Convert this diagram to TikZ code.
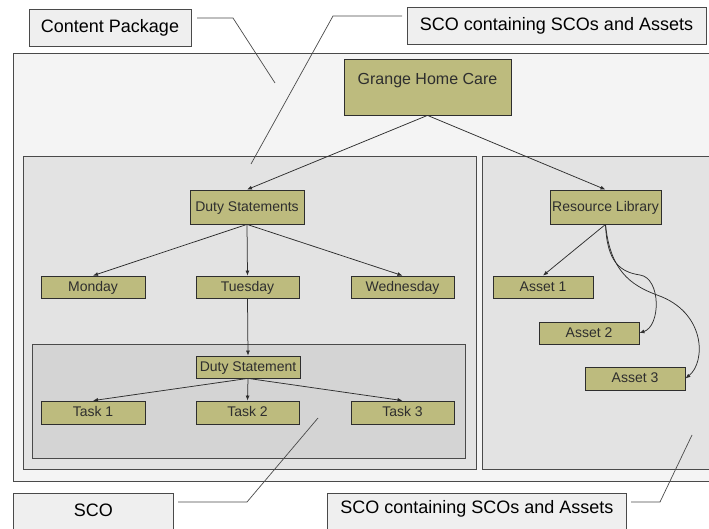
\documentclass[tikz,border=0pt]{standalone}
\usepackage{fontspec}
\setmainfont{Liberation Sans}
\usetikzlibrary{arrows.meta}
\definecolor{olive}{HTML}{BDBB7E}
\definecolor{pkgfill}{HTML}{F4F4F4}
\definecolor{scofill}{HTML}{E3E3E3}
\definecolor{innerfill}{HTML}{D4D4D4}
\definecolor{lblfill}{HTML}{EFEFEF}
\definecolor{edge}{HTML}{4A4A4A}
\definecolor{ink}{HTML}{2E2E2E}
\tikzset{
  item/.style={draw=ink, line width=0.8pt, fill=olive, inner sep=0pt, text=ink,
    font=\fontsize{14}{16}\selectfont, text height=10pt, text depth=1.5pt},
  lbl/.style={draw=edge, line width=0.8pt, fill=lblfill, inner sep=0pt, text=black,
    font=\fontsize{18}{21}\selectfont},
  region/.style={draw=edge, line width=0.9pt},
  link/.style={draw=ink, line width=0.75pt, -{Latex[length=5pt,width=4pt]}},
  callout/.style={draw=edge, line width=0.7pt},
}
\begin{document}
\begin{tikzpicture}[x=1pt,y=-1pt]
\useasboundingbox (0,0) rectangle (709,529);
\clip (0,0) rectangle (709,529);
\fill[white] (0,0) rectangle (709,529);
% regions
\draw[region, fill=pkgfill] (13,53) rectangle (716,481);
\draw[region, fill=scofill] (23,156) rectangle (476,469);
\draw[region, fill=scofill] (482,156) rectangle (716,469);
\draw[region, fill=innerfill] (32,344) rectangle (465,458);
% nodes
\node[item, minimum width=167, minimum height=56, text height=12pt, text depth=1.5pt] (ghc) at (427.5,87)
  {\fontsize{16}{18}\selectfont\raisebox{8pt}[\height][\depth]{Grange Home Care}};
\node[item, minimum width=114, minimum height=34] (ds) at (247,207) {Duty Statements};
\node[item, minimum width=104, minimum height=22] (mon) at (93,287) {Monday};
\node[item, minimum width=103, minimum height=22] (tue) at (247.5,287) {Tuesday};
\node[item, minimum width=103, minimum height=22] (wed) at (402.5,287) {Wednesday};
\node[item, minimum width=104, minimum height=22] (dst) at (248,367) {Duty Statement};
\node[item, minimum width=104, minimum height=23] (t1) at (93,412.5) {Task 1};
\node[item, minimum width=103, minimum height=23] (t2) at (247.5,412.5) {Task 2};
\node[item, minimum width=103, minimum height=23] (t3) at (402.5,412.5) {Task 3};
\node[item, minimum width=111, minimum height=34] (rl) at (605.5,207) {Resource Library};
\node[item, minimum width=100, minimum height=22] (a1) at (543,287) {Asset 1};
\node[item, minimum width=100, minimum height=22] (a2) at (589,333) {Asset 2};
\node[item, minimum width=100, minimum height=23] (a3) at (635,378.5) {Asset 3};
% connectors
\draw[link] (ghc.south) -- (ds.north);
\draw[link] (ghc.south) -- (rl.north);
\draw[link] (ds.south) -- (mon.north);
\draw[link] (ds.south) -- (tue.north);
\draw[link] (ds.south) -- (wed.north);
\draw[link] (tue.south) -- (dst.north);
\draw[link] (dst.south) -- (t1.north);
\draw[link] (dst.south) -- (t2.north);
\draw[link] (dst.south) -- (t3.north);
\draw[link] (rl.south) -- (a1.north);
\draw[link] (rl.south) .. controls (607,262) and (620,272) .. (640,275)
  .. controls (661,278) and (661,326) .. (a2.east);
\draw[link] (rl.south) .. controls (610,270) and (630,285) .. (657,295)
  .. controls (706,312) and (706,362) .. (a3.east);
% labels
\node[lbl, minimum width=162, minimum height=37] (cp) at (110,27.5) {Content Package};
\node[lbl, minimum width=299, minimum height=37] (scotop) at (556.5,25.5) {SCO containing SCOs and Assets};
\node[lbl, minimum width=160, minimum height=60, anchor=north west] (sco) at (13,493)
  {\raisebox{13pt}[\height][\depth]{SCO}};
\node[lbl, minimum width=299, minimum height=60, anchor=north west] (scobot) at (327,493)
  {\raisebox{15pt}[\height][\depth]{SCO containing SCOs and Assets}};
% callouts
\coordinate (c1a) at (197,18);
\coordinate (c1b) at (233,18);
\coordinate (c1c) at (275,83);
\draw[callout] (c1a) -- (c1b) -- (c1c);
\coordinate (c2a) at (402,16);
\coordinate (c2b) at (333,16);
\coordinate (c2c) at (251,164);
\draw[callout] (c2a) -- (c2b) -- (c2c);
\coordinate (c3a) at (178,502);
\coordinate (c3b) at (247,502);
\coordinate (c3c) at (318,418);
\draw[callout] (c3a) -- (c3b) -- (c3c);
\coordinate (c4a) at (631,502);
\coordinate (c4b) at (660,502);
\coordinate (c4c) at (692,435);
\draw[callout] (c4a) -- (c4b) -- (c4c);
\end{tikzpicture}
\end{document}
